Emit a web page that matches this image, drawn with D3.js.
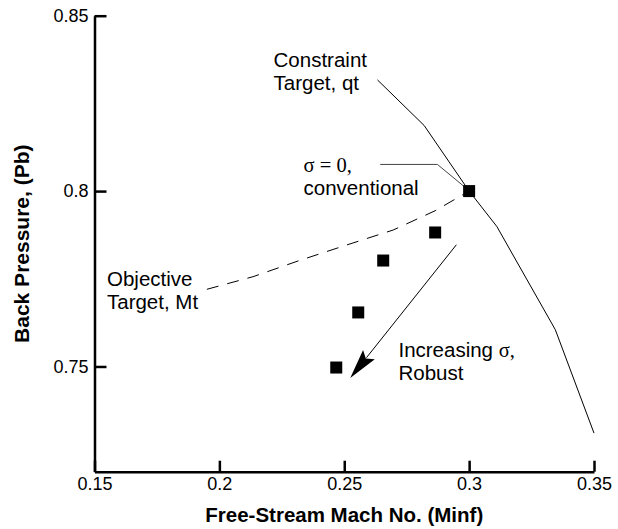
<!DOCTYPE html>
<html>
<head>
<meta charset="utf-8">
<script src="https://cdn.jsdelivr.net/npm/d3@7"></script>
<style>
  html, body { margin: 0; padding: 0; background: #fff; }
  svg { display: block; }
  text { font-family: "Liberation Sans", Arial, Helvetica, sans-serif; fill: #000; }
  .serif { font-family: "Liberation Serif", "Times New Roman", serif; }
</style>
</head>
<body>
<script>
// Axis ticks
const xTicks = [0.15, 0.2, 0.25, 0.3, 0.35];
const yTicks = [0.75, 0.8, 0.85];

// Robust design points (square markers), sigma increasing from the first
const robustMach = [0.3, 0.2864, 0.2656, 0.2556, 0.2468];
const robustPb   = [0.8, 0.7882, 0.7802, 0.7654, 0.7497];

// Constraint target (qt) curve
const constraintMach = [0.2633, 0.282, 0.3, 0.3111, 0.3345, 0.35];
const constraintPb   = [0.8317, 0.8187, 0.8, 0.7899, 0.7605, 0.731];

// Objective target (Mt) curve
const objectiveMach = [0.195, 0.2135, 0.2316, 0.2504, 0.2696, 0.2864, 0.3, 0.3044];
const objectivePb   = [0.772, 0.7756, 0.7801, 0.7845, 0.7889, 0.7944, 0.8, 0.8012];

// Leader from the "sigma = 0" label to the conventional design
const leaderMach = [0.2644, 0.2873, 0.2987];
const leaderPb   = [0.8076, 0.8076, 0.8009];

// Arrow showing the direction of increasing sigma
const arrowMach = [0.2949, 0.2524];
const arrowPb   = [0.7847, 0.7467];

const W = 618, H = 529;
const x = d3.scaleLinear().domain([0.15, 0.35]).range([94.5, 594]);
const y = d3.scaleLinear().domain([0.72, 0.85]).range([471.7, 15.7]);

const svg = d3.select("body").append("svg")
  .attr("width", W).attr("height", H);

const line = d3.line().x(d => x(d[0])).y(d => y(d[1]));
const zip = (a, b) => a.map((v, i) => [v, b[i]]);

// Curves
svg.append("path")
  .datum(zip(constraintMach, constraintPb))
  .attr("d", line)
  .attr("fill", "none").attr("stroke", "#000").attr("stroke-width", 1);

svg.append("path")
  .datum(zip(objectiveMach, objectivePb))
  .attr("d", line)
  .attr("fill", "none").attr("stroke", "#000").attr("stroke-width", 1)
  .attr("stroke-dasharray", "12,9");

svg.append("path")
  .datum(zip(leaderMach, leaderPb))
  .attr("d", line)
  .attr("fill", "none").attr("stroke", "#444").attr("stroke-width", 1);

// Arrow
const a0 = [x(arrowMach[0]), y(arrowPb[0])];
const a1 = [x(arrowMach[1]), y(arrowPb[1])];
const dx = a1[0] - a0[0], dy = a1[1] - a0[1];
const len = Math.hypot(dx, dy);
const ux = dx / len, uy = dy / len;
const headL = 30, headW = 7.5;
const bx = a1[0] - ux * headL, by = a1[1] - uy * headL;
svg.append("line")
  .attr("x1", a0[0]).attr("y1", a0[1])
  .attr("x2", bx + ux * 4).attr("y2", by + uy * 4)
  .attr("stroke", "#000").attr("stroke-width", 1);
svg.append("path")
  .attr("d", `M${a1[0]},${a1[1]}L${bx - uy * headW},${by + ux * headW}L${bx + ux * 5},${by + uy * 5}L${bx + uy * headW},${by - ux * headW}Z`)
  .attr("fill", "#000");

// Square markers
const sq = 12;
svg.append("g").selectAll("rect")
  .data(zip(robustMach, robustPb))
  .join("rect")
  .attr("x", d => x(d[0]) - sq / 2)
  .attr("y", d => y(d[1]) - sq / 2)
  .attr("width", sq).attr("height", sq)
  .attr("fill", "#000");

// Axes with inward ticks
const xAxis = d3.axisBottom(x)
  .tickValues(xTicks)
  .tickFormat(d => String(d))
  .tickSizeInner(-11).tickSizeOuter(0).tickPadding(5.5);
const yAxis = d3.axisLeft(y)
  .tickValues(yTicks)
  .tickFormat(d => String(d))
  .tickSizeInner(-12).tickSizeOuter(0).tickPadding(6);

const gx = svg.append("g").attr("transform", `translate(0,${y(0.72)})`).call(xAxis);
const gy = svg.append("g").attr("transform", `translate(${x(0.15)},0)`).call(yAxis);
[gx, gy].forEach(g => {
  g.select(".domain").attr("stroke", "#000").attr("stroke-width", 2.5);
  g.selectAll(".tick line").attr("stroke", "#000").attr("stroke-width", 2.5);
  g.selectAll(".tick text")
    .attr("fill", "#000")
    .style("font-family", "\"Liberation Sans\", Arial, sans-serif")
    .style("font-size", "18px");
});

// Axis titles
svg.append("text")
  .attr("x", (x(0.15) + x(0.35)) / 2).attr("y", 521.5)
  .attr("text-anchor", "middle")
  .style("font-size", "20.5px").style("font-weight", "bold")
  .text("Free-Stream Mach No. (Minf)");

svg.append("text")
  .attr("transform", `translate(29,${(y(0.72) + y(0.85)) / 2})rotate(-90)`)
  .attr("text-anchor", "middle")
  .style("font-size", "21px").style("font-weight", "bold")
  .text("Back Pressure, (Pb)");

// Two-line annotations; the pair is centred on the given baseline pair
const fs = 20.5, lh = 23;
function label(mx, pb, lines, refGap) {
  const shift = (lh - refGap) / 2;
  lines.forEach((ln, i) => {
    const t = svg.append("text")
      .attr("x", x(mx)).attr("y", y(pb) - shift + i * lh)
      .style("font-size", fs + "px");
    ln.forEach(part => {
      t.append("tspan").attr("class", part.serif ? "serif" : null).text(part.t);
    });
  });
}
label(0.2217, 0.835, [[{t: "Constraint"}], [{t: "Target, qt"}]], 20);
label(0.2337, 0.8052, [[{t: "σ = 0,", serif: true}], [{t: "conventional"}]], 21);
label(0.155, 0.7728, [[{t: "Objective"}], [{t: "Target, Mt"}]], 21.5);
label(0.2717, 0.7524, [[{t: "Increasing "}, {t: "σ,", serif: true}], [{t: "Robust"}]], 21);
</script>
</body>
</html>
